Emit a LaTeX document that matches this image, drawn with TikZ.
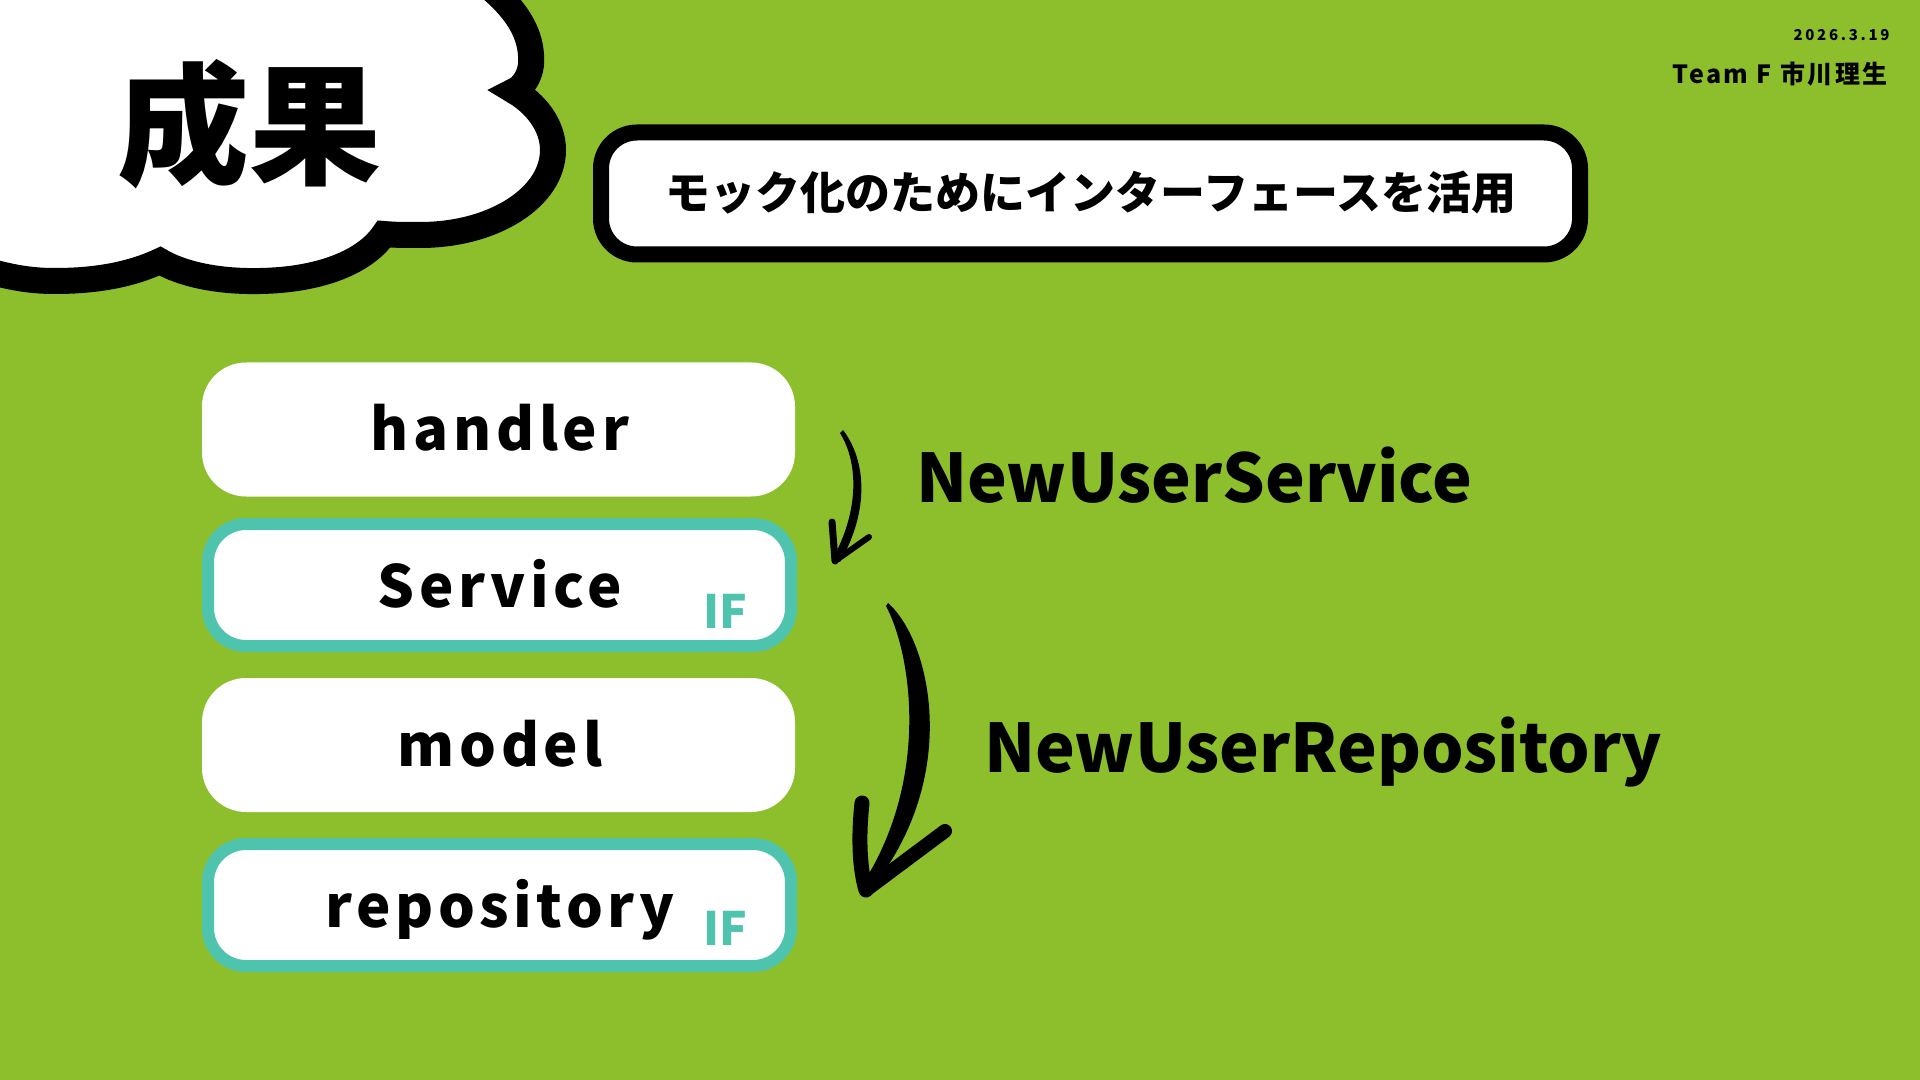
\documentclass[tikz,border=0pt]{standalone}
\usepackage{fontspec}
\newfontfamily\jp{Noto Sans CJK JP}
\newfontfamily\jpsp{Noto Sans CJK JP}[LetterSpace=8]
\newfontfamily\jpdate{Noto Sans CJK JP}[LetterSpace=18]
\newfontfamily\jpteam{Noto Sans CJK JP}[LetterSpace=10]
\definecolor{bg}{RGB}{141,191,44}
\definecolor{ifteal}{RGB}{78,195,174}
\begin{document}
\begin{tikzpicture}[x=0.5pt,y=-0.5pt,
  wbox/.style={fill=white, draw=none, rounded corners=22pt, minimum width=296.5pt, minimum height=67pt, inner sep=0pt},
  ifbox/.style={fill=white, draw=ifteal, line width=6pt, rounded corners=19pt, minimum width=291.5pt, minimum height=61pt, inner sep=0pt},
  lbl/.style={anchor=base, inner sep=0pt, font=\jpsp\bfseries\fontsize{29pt}{31pt}\selectfont},
  iflbl/.style={anchor=base, inner sep=0pt, text=ifteal, font=\jp\bfseries\fontsize{23pt}{25pt}\selectfont},
  fn/.style={anchor=base west, inner sep=0pt, font=\jp\bfseries\fontsize{33.5pt}{35pt}\selectfont},
  brush/.style={fill=black, draw=none},
  brushline/.style={draw=black, line cap=round, line join=round}
]
\useasboundingbox (0,0) rectangle (1920,1080);
\fill[bg] (0,0) rectangle (1920,1080);

% cloud
\path[fill=white, draw=black, line width=13pt]
  (455,-40) .. controls (470,-25) and (528,5) .. (531,55)
  .. controls (533,75) and (522,88) .. (514,91)
  .. controls (535,103) and (553,125) .. (553,150)
  .. controls (553,197) and (494,235) .. (420,235)
  .. controls (405,235) and (395,235) .. (384,234)
  .. controls (365,262) and (320,280) .. (260,281)
  .. controls (215,282) and (180,273) .. (160,261)
  .. controls (130,275) and (95,281) .. (55,281)
  .. controls (25,281) and (5,276) .. (-30,266)
  -- (-30,-40) -- cycle;
\node[anchor=base, inner sep=0pt, font=\jp\bfseries\fontsize{66pt}{68pt}\selectfont] (title) at (249,175) {成果};

% header right
\node[anchor=base east, inner sep=0pt, font=\jpdate\bfseries\fontsize{7.5pt}{9pt}\selectfont] (date) at (1890,41) {2026.3.19};
\node[anchor=base east, inner sep=0pt, font=\jpteam\bfseries\fontsize{12.5pt}{14pt}\selectfont] (team) at (1888,84) {Team F 市川理生};

% subtitle box
\node[draw=black, line width=8pt, fill=white, rounded corners=18pt, minimum width=489.5pt, minimum height=61pt, inner sep=0pt] (sub) at (1090.5,193.5) {};
\node[anchor=base, inner sep=0pt, font=\jp\bfseries\fontsize{22.5pt}{24pt}\selectfont] (subtxt) at (1091,210) {モック化のためにインターフェースを活用};

% layer boxes
\node[wbox] (handler) at (498.5,429.5) {};
\node[ifbox] (service) at (499.5,585) {};
\node[wbox] (model) at (498.5,745) {};
\node[ifbox] (repo) at (499.5,905) {};

\node[lbl] (handlerT) at (500,450) {handler};
\node[lbl] (serviceT) at (500,607) {Service};
\node[lbl] (modelT) at (500,766) {model};
\node[lbl] (repoT) at (500,927) {repository};
\node[iflbl] (if1) at (725,628) {IF};
\node[iflbl] (if2) at (725,945) {IF};

% function names
\node[fn] (fn1) at (916,502) {NewUserService};
\node[fn] (fn2) at (984,772) {NewUserRepository};

% arrow 1 (thin brush)
\path[brush] (843,430) .. controls (866,460) and (870,510) .. (840,562)
  -- (832,560) .. controls (860,510) and (858,462) .. (840,433) -- cycle;
\draw[brushline, line width=3.5pt] (832,522) -- (835,561);
\draw[brushline, line width=3pt] (835,561) -- (869,537);

% arrow 2 (thick brush)
\path[brush] (888,603) .. controls (930,640) and (960,770) .. (878,880)
  -- (862,885) .. controls (930,780) and (912,655) .. (886,606) -- cycle;
\draw[brushline, line width=7.5pt] (862,803) .. controls (858,840) and (860,870) .. (866,890);
\draw[brushline, line width=7pt] (866,890) -- (945,831);
\end{tikzpicture}
\end{document}
